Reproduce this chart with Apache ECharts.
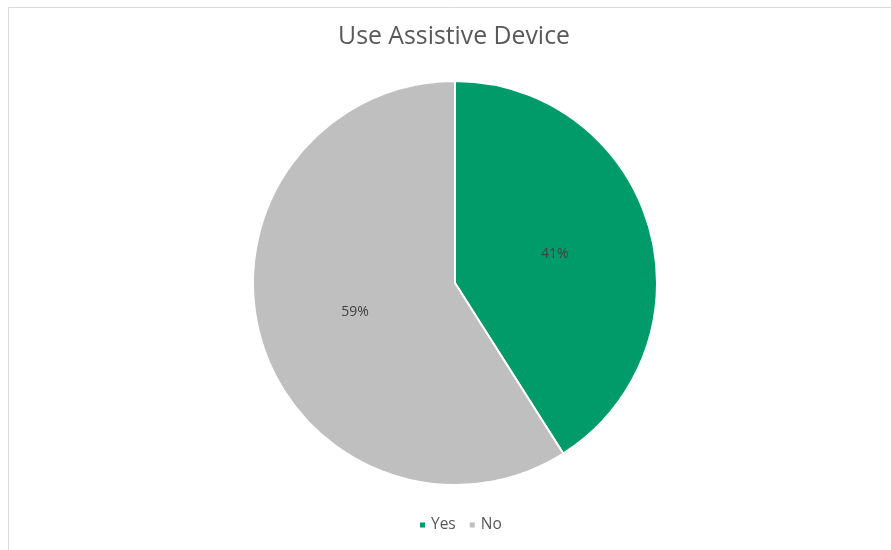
<!DOCTYPE html>
<html><head><meta charset="utf-8">
<script src="https://cdn.jsdelivr.net/npm/echarts@6/dist/echarts.min.js"></script>
<style>html,body{margin:0;padding:0;background:#fff}#c{width:891px;height:550px}</style>
</head><body><div id="c"></div>
<script>
const titleText = 'Use Assistive Device';
const categories = ['Yes', 'No'];
const values = [41, 59];
const colors = ['#009B68', '#BFBFBF'];

const chart = echarts.init(document.getElementById('c'), null, {renderer: 'canvas'});
chart.setOption({
  backgroundColor: '#fff',
  animation: false,
  color: colors,
  graphic: [{
    type: 'rect', left: 6, top: 5, silent: true,
    shape: {width: 900, height: 600},
    style: {fill: 'none', stroke: '#d9d9d9', lineWidth: 1}
  }, {
    type: 'text', x: 454, y: 24, silent: true,
    style: {text: titleText, align: 'center', verticalAlign: 'top',
      font: 'normal 24.8px "Open Sans"', fill: '#595959'}
  }],
  legend: {
    data: categories, bottom: 12, left: 413,
    icon: 'rect', itemWidth: 7, itemHeight: 7, itemGap: 12,
    textStyle: {fontFamily: 'Open Sans', fontSize: 15.5, color: '#595959'}
  },
  series: [{
    type: 'pie', center: [455, 283], radius: 202,
    startAngle: 90, clockwise: true,
    itemStyle: {borderColor: '#fff', borderWidth: 2},
    label: {position: 'inside', formatter: '{d}%', fontFamily: 'Open Sans', fontSize: 14, color: '#404040'},
    labelLine: {show: false},
    data: categories.map((c, i) => ({name: c, value: values[i]}))
  }]
});
</script></body></html>
